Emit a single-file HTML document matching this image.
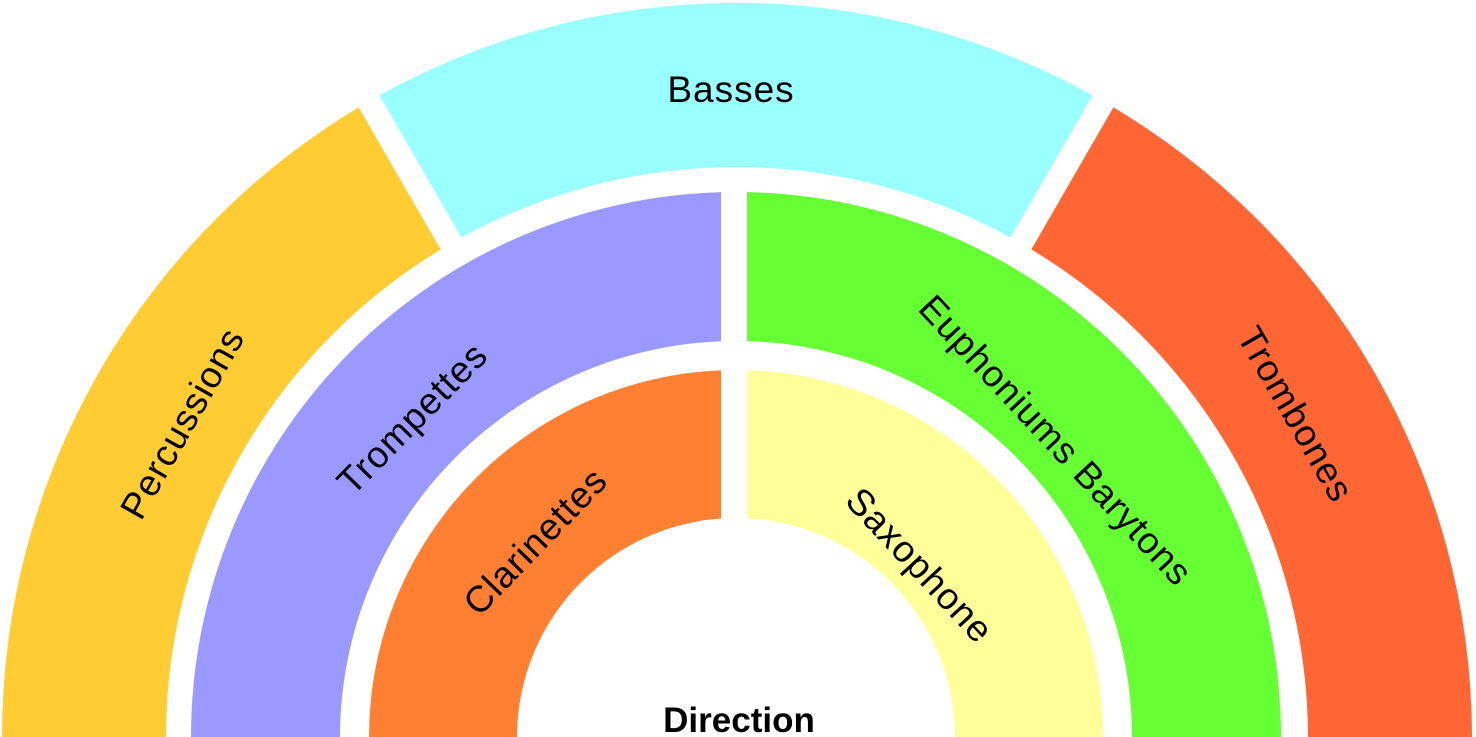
<!DOCTYPE html>
<html><head><meta charset="utf-8"><style>
html,body{margin:0;padding:0;background:#fff;width:1476px;height:737px;overflow:hidden}
svg{display:block}
text{font-family:"Liberation Sans",sans-serif;font-size:37px;fill:#000;letter-spacing:1px}
</style></head><body>
<svg width="1476" height="737" viewBox="0 0 1476 737" xmlns="http://www.w3.org/2000/svg">
<path d="M 2 737 A 734 734 0 0 1 369 101.3 L 451 243.4 A 570 570 0 0 0 166 737 Z" fill="#FFCC33"/>
<path d="M 369 101.3 A 734 734 0 0 1 1103 101.3 L 1021 243.4 A 570 570 0 0 0 451 243.4 Z" fill="#99FFFF"/>
<path d="M 1103 101.3 A 734 734 0 0 1 1472 737 L 1308 737 A 570 570 0 0 0 1021 243.4 Z" fill="#FF6633"/>
<path d="M 191 737 A 545 545 0 0 1 736 192 L 736 341 A 396 396 0 0 0 340 737 Z" fill="#9999FF"/>
<path d="M 736 192 A 545 545 0 0 1 1281 737 L 1132 737 A 396 396 0 0 0 736 341 Z" fill="#66FF33"/>
<path d="M 369 737 A 367 367 0 0 1 736 370 L 736 518 A 219 219 0 0 0 517 737 Z" fill="#FF8033"/>
<path d="M 736 370 A 367 367 0 0 1 1103 737 L 955 737 A 219 219 0 0 0 736 518 Z" fill="#FFFF99"/>
<rect x="721" y="180" width="26" height="560" fill="#fff"/>
<line x1="456" y1="252" x2="363.5" y2="91.8" stroke="#fff" stroke-width="24"/>
<line x1="1016" y1="252" x2="1108.5" y2="91.8" stroke="#fff" stroke-width="24"/>
<text x="731" y="102" text-anchor="middle">Basses</text>
<text transform="translate(182,423) rotate(-60.5)" text-anchor="middle" dy="13">Percussions</text>
<text transform="translate(412,418) rotate(-45.5)" text-anchor="middle" dy="13">Trompettes</text>
<text transform="translate(535,541) rotate(-46)" text-anchor="middle" dy="13">Clarinettes</text>
<text transform="translate(920,565) rotate(47)" text-anchor="middle" dy="13">Saxophone</text>
<text transform="translate(1056,440) rotate(47)" text-anchor="middle" dy="13">Euphoniums Barytons</text>
<text transform="translate(1296,414) rotate(60)" text-anchor="middle" dy="13">Trombones</text>
<text x="739" y="732" text-anchor="middle" style="font-weight:bold;font-size:35px;letter-spacing:0">Direction</text>
</svg>
</body></html>
